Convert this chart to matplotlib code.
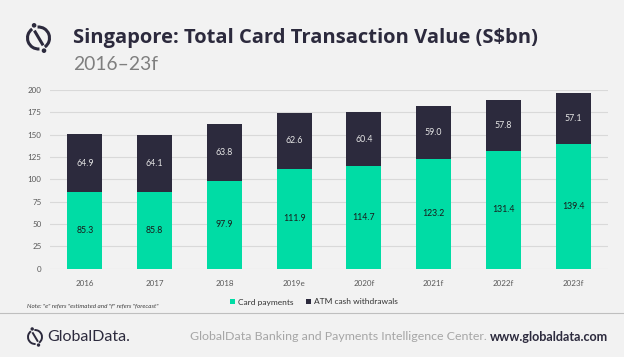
import matplotlib.pyplot as plt
from matplotlib.patches import Arc, Circle
import numpy as np

years = ["2016", "2017", "2018", "2019e", "2020f", "2021f", "2022f", "2023f"]
card_payments = [85.3, 85.8, 97.9, 111.9, 114.7, 123.2, 131.4, 139.4]
atm_withdrawals = [64.9, 64.1, 63.8, 62.6, 60.4, 59.0, 57.8, 57.1]
y_ticks = [0, 25, 50, 75, 100, 125, 150, 175, 200]

BG = "#f2f2f2"
GREEN = "#00dca5"
DARK = "#2c2a3d"
TICK = "#595959"

plt.rcParams['font.family'] = ['Lato', 'DejaVu Sans']

fig = plt.figure(figsize=(6.24, 3.57), dpi=100, facecolor=BG)
ax = fig.add_axes([50 / 624, 88.3 / 357, 558 / 624, 178.7 / 357])
ax.set_facecolor(BG)

x = np.arange(len(years))
b1 = ax.bar(x, card_payments, width=0.5, color=GREEN, label="Card payments", zorder=3)
b2 = ax.bar(x, atm_withdrawals, width=0.5, bottom=card_payments, color=DARK,
            label="ATM cash withdrawals", zorder=3)

for i in range(len(years)):
    ax.text(x[i], card_payments[i] / 2, f"{card_payments[i]:.1f}", ha="center", va="center",
            fontsize=6.3, color="#1a1a1a", zorder=4)
    ax.text(x[i], card_payments[i] + atm_withdrawals[i] / 2, f"{atm_withdrawals[i]:.1f}",
            ha="center", va="center", fontsize=6.3, color="#e6e6e6", zorder=4)

ax.set_xlim(-0.5, len(years) - 0.5)
ax.set_ylim(0, 200)
ax.set_yticks(y_ticks)
ax.set_xticks(x)
ax.set_xticklabels(years)
ax.tick_params(length=0, labelsize=5.8, colors=TICK, pad=8)
ax.tick_params(axis="y", pad=6)
ax.grid(axis="y", color="#d9d9d9", linewidth=0.8, zorder=0)
for s in ax.spines.values():
    s.set_visible(False)

leg = fig.legend(handles=[b1, b2], loc="center", bbox_to_anchor=(314 / 624, 1 - 302 / 357),
                 ncol=2, frameon=False, fontsize=6, handlelength=0.6, handleheight=0.6,
                 handletextpad=0.4, columnspacing=1.5, labelcolor="#333333")

# header
fig.text(73 / 624, 1 - 38 / 357, "Singapore: Total Card Transaction Value (S$bn)",
         fontsize=14.5, fontweight="bold", color=DARK, va="center", ha="left",
         family=["Open Sans", "DejaVu Sans"])
fig.text(73 / 624, 1 - 65 / 357, "2016\u201323f", fontsize=13.9, color="#7f7f7f",
         va="center", ha="left")

# logo icons: open circle with a slash and two dots
def logo(cx, cy, r, lw, dot):
    cy = 357 - cy
    fig.patches.append(Arc((cx, cy), 2 * r, 2 * r, theta1=125, theta2=275, transform=None,
                           edgecolor=DARK, linewidth=lw))
    fig.patches.append(Arc((cx, cy), 2 * r, 2 * r, theta1=305, theta2=455, transform=None,
                           edgecolor=DARK, linewidth=lw))
    fig.lines.append(plt.Line2D([cx - r * 0.3, cx + r * 0.35], [cy + r * 0.55, cy - r * 0.55],
                                transform=None, color=DARK, linewidth=lw))
    fig.patches.append(Circle((cx - r * 0.4, cy + r * 1.15), dot, transform=None, color=DARK))
    fig.patches.append(Circle((cx + r * 0.5, cy - r * 1.15), dot, transform=None, color=DARK))

logo(38.5, 38, 11, 2.2, 1.6)
logo(35, 337, 7, 1.4, 1.0)

# footer
fig.text(27 / 624, 1 - 306 / 357, 'Note: "e" refers "estimated and "f" refers "forecast"',
         fontsize=4.5, style="italic", color="#404040", va="center")
fig.lines.append(plt.Line2D([0, 1], [1 - 313 / 357, 1 - 313 / 357], transform=fig.transFigure,
                            color="#bfbfbf", linewidth=0.8))
fig.text(47 / 624, 1 - 337 / 357, "GlobalData.", fontsize=11.5, color=DARK, va="center")
fig.text(487 / 624, 1 - 337 / 357, "GlobalData Banking and Payments Intelligence Center.",
         fontsize=8.9, color="#a6a6a6", va="center", ha="right")
fig.text(608 / 624, 1 - 337 / 357, "www.globaldata.com", fontsize=9.1, fontweight="bold",
         color=DARK, va="center", ha="right")

fig.savefig("out.png", dpi=100, facecolor=BG)
